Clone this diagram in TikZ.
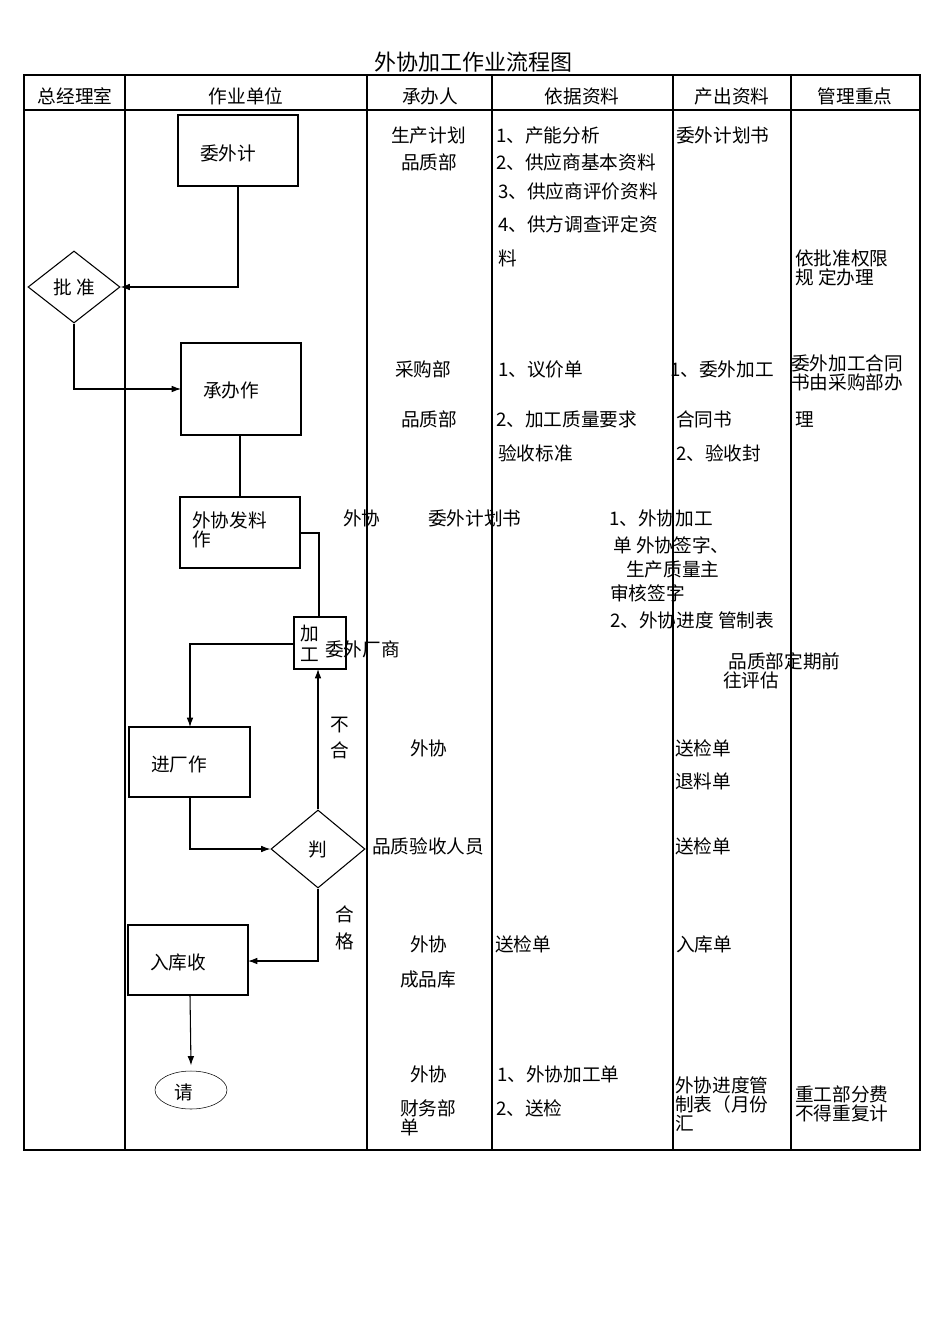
\documentclass[tikz,border=0pt]{standalone}
\usepackage{fontspec}
\setmainfont{Noto Sans CJK SC}
\usetikzlibrary{shapes.geometric,arrows.meta}
\begin{document}
\begin{tikzpicture}[x=0.75pt,y=-0.75pt,
  t/.style={anchor=west,inner sep=0pt,font=\fontsize{14}{15}\selectfont},
  c/.style={inner sep=0pt,font=\fontsize{14}{15}\selectfont},
  arr/.style={thick,-{Latex[length=7pt,width=5pt]}}, ln/.style={thick}]
\useasboundingbox (0,0) rectangle (950,1344);
\draw[thick] (24,75) rectangle (920,1150);
\draw[thick] (24,110) -- (920,110);
\foreach \x in {125,367,492,673,791} \draw[thick] (\x,75) -- (\x,1150);
\node[c,font=\fontsize{16.5}{18}\selectfont] (title) at (473,62) {外协加工作业流程图};
\node[c] (h1) at (75,96) {总经理室};
\node[c] (h2) at (246,96) {作业单位};
\node[c] (h3) at (430,96) {承办人};
\node[c] (h4) at (582,96) {依据资料};
\node[c] (h5) at (732,96) {产出资料};
\node[c] (h6) at (855,96) {管理重点};
% nodes
\draw[thick] (178,115) rectangle (298,186); \coordinate (wwb) at (238,186);
\node[t] (ww) at (200,153) {委外计};
\node[diamond,draw,thick,minimum width=92pt*0.75,minimum height=72pt*0.75,inner sep=0pt,aspect=1.3,font=\fontsize{14}{15}\selectfont] (pz) at (74,287) {批\ 准};
\draw[thick] (181,343) rectangle (301,435);
\node[t] (cb) at (203,390) {承办作};
\coordinate (cbl) at (181,389); \coordinate (cbb) at (240,435);
\draw[thick] (180,497) rectangle (300,568);
\node[t,align=left,font=\fontsize{14}{12}\selectfont] (fl) at (192,530) {外协发料\\作};
\coordinate (flt) at (240,497); \coordinate (flr) at (300,533);
\draw[thick] (294,617) rectangle (346,669);
\node[t,align=left,font=\fontsize{14}{16}\selectfont] (jg) at (300,643) {加\\工};
\coordinate (jgt) at (319,617); \coordinate (jgl) at (294,644); \coordinate (jgb) at (318,669);
\draw[thick] (129,727) rectangle (250,797);
\node[t] (jc) at (151,764) {进厂作};
\coordinate (jct) at (190,727); \coordinate (jcb) at (190,797);
\node[diamond,draw,thick,minimum width=94pt*0.75,minimum height=78pt*0.75,inner sep=0pt,aspect=1.2,font=\fontsize{14}{15}\selectfont] (pd) at (318,849) {判};
\draw[thick] (128,925) rectangle (248,995);
\node[t] (rk) at (150,962) {入库收};
\coordinate (rkr) at (248,961); \coordinate (rkb) at (190,995);
\node[ellipse,draw,minimum width=72pt*0.75,minimum height=38pt*0.75,inner sep=0pt] (qq) at (191,1090) {};
\node[t] at (174,1092) {请};
% connectors
\draw[arr] (wwb) |- (pz.east);
\draw[arr] (pz.south) |- (cbl);
\draw[ln] (cbb) -- (flt);
\draw[ln] (flr) -| (jgt);
\draw[arr] (jgl) -| (jct);
\draw[arr] (jcb) |- (pd.west);
\draw[arr] (pd.north) -- (jgb);
\draw[arr] (pd.south) |- (rkr);
\draw[arr] (rkb) -- ([yshift=4pt]qq.north);
\node[t,align=left,font=\fontsize{14}{20}\selectfont] at (330,738) {不\\合};
\node[t,align=left,font=\fontsize{14}{20}\selectfont] at (335,928) {合\\格};
% texts col3
\node[t] at (391,135) {生产计划};
\node[t] at (401,162) {品质部};
\node[t] at (395,369) {采购部};
\node[t] at (401,419) {品质部};
\node[t] at (343,518) {外协};
\node[t] at (428,518) {委外计划书};
\node[t] at (325,649) {委外厂商};
\node[t] at (410,748) {外协};
\node[t] at (372,846) {品质验收人员};
\node[t] at (410,944) {外协};
\node[t] at (400,979) {成品库};
\node[t] at (410,1074) {外协};
\node[t,align=left,font=\fontsize{14}{14}\selectfont] at (400,1118) {财务部\\单};
% col4
\node[t] at (496,135) {1、产能分析};
\node[t] at (496,162) {2、供应商基本资料};
\node[t] at (498,191) {3、供应商评价资料};
\node[t] at (498,224) {4、供方调查评定资};
\node[t] at (498,258) {料};
\node[t] at (498,369) {1、议价单};
\node[t] at (496,419) {2、加工质量要求};
\node[t] at (498,453) {验收标准};
\node[t] at (609,518) {1、外协加工};
\node[t] at (613,545) {单 外协签字、};
\node[t] at (626,569) {生产质量主};
\node[t] at (610,593) {审核签字};
\node[t] at (610,620) {2、外协进度 管制表};
\node[t] at (495,944) {送检单};
\node[t] at (497,1074) {1、外协加工单};
\node[t] at (496,1108) {2、送检};
% col5
\node[t] at (676,135) {委外计划书};
\node[t] at (670,369) {1、委外加工};
\node[t] at (676,419) {合同书};
\node[t] at (676,453) {2、验收封};
\node[t,align=left,font=\fontsize{14}{14}\selectfont] at (723,671) {\hspace*{4pt}品质部定期前\\往评估};
\node[t] at (675,748) {送检单};
\node[t] at (675,781) {退料单};
\node[t] at (675,846) {送检单};
\node[t] at (676,944) {入库单};
\node[t,align=left,font=\fontsize{14}{14}\selectfont] at (675,1104) {外协进度管\\制表（月份\\汇};
% col6
\node[t,align=left,font=\fontsize{14}{12}\selectfont] at (795,268) {依批准权限\\规 定办理};
\node[t,align=left,font=\fontsize{14}{12}\selectfont] at (791,373) {委外加工合同\\书由采购部办};
\node[t] at (795,420) {理};
\node[t,align=left,font=\fontsize{14}{14}\selectfont] at (795,1104) {重工部分费\\不得重复计};
\end{tikzpicture}
\end{document}
